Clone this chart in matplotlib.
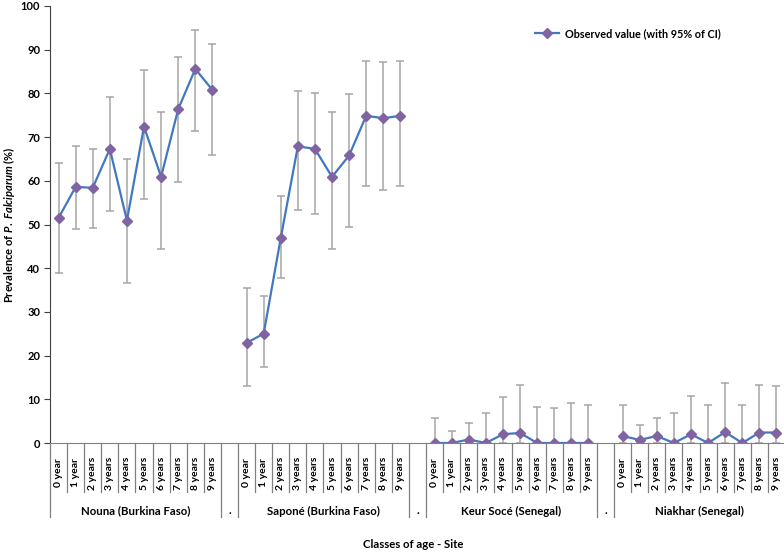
import numpy as np
import matplotlib.pyplot as plt

plt.rcParams['font.family'] = ['Lato', 'DejaVu Sans']
plt.rcParams['mathtext.fontset'] = 'custom'
plt.rcParams['mathtext.rm'] = 'Lato:bold'
plt.rcParams['mathtext.it'] = 'Lato:italic:bold'

sites = ['Nouna (Burkina Faso)', 'Saponé (Burkina Faso)',
         'Keur Socé (Senegal)', 'Niakhar (Senegal)']
ages = ['0 year', '1 year', '2 years', '3 years', '4 years',
        '5 years', '6 years', '7 years', '8 years', '9 years']

# observed prevalence and 95% CI, per site
nouna = [51.5, 58.6, 58.4, 67.3, 50.9, 72.4, 60.9, 76.4, 85.6, 80.8]
nouna_lo = [38.8, 49.0, 49.1, 53.1, 36.5, 55.9, 44.4, 59.7, 71.4, 65.8]
nouna_hi = [64.1, 67.9, 67.3, 79.2, 65.1, 85.4, 75.7, 88.4, 94.6, 91.4]

sapone = [22.9, 25.0, 46.9, 67.9, 67.3, 60.9, 65.8, 74.9, 74.3, 74.9]
sapone_lo = [13.1, 17.5, 37.7, 53.3, 52.3, 44.4, 49.4, 58.7, 57.9, 58.7]
sapone_hi = [35.5, 33.6, 56.5, 80.5, 80.0, 75.7, 79.8, 87.3, 87.1, 87.3]

keur = [0.0, 0.0, 0.8, 0.0, 2.0, 2.3, 0.0, 0.0, 0.0, 0.0]
keur_lo = [0.0, 0.0, 0.0, 0.0, 0.0, 0.0, 0.0, 0.0, 0.0, 0.0]
keur_hi = [5.7, 2.8, 4.6, 6.9, 10.6, 13.2, 8.3, 7.9, 9.2, 8.6]

niakhar = [1.6, 0.7, 1.6, 0.0, 2.0, 0.0, 2.5, 0.0, 2.4, 2.4]
niakhar_lo = [0.0, 0.0, 0.1, 0.0, 0.0, 0.0, 0.0, 0.0, 0.0, 0.0]
niakhar_hi = [8.6, 4.2, 5.7, 6.9, 10.7, 8.6, 13.7, 8.6, 13.2, 13.0]

groups = [(nouna, nouna_lo, nouna_hi), (sapone, sapone_lo, sapone_hi),
          (keur, keur_lo, keur_hi), (niakhar, niakhar_lo, niakhar_hi)]

fig = plt.figure(figsize=(7.84, 5.53), dpi=100)
ax = fig.add_axes([50 / 784, 110 / 553, 735 / 784, 437 / 553])

n_age = len(ages)
step = n_age + 1  # one empty "." category between sites
n_cat = len(sites) * step - 1

for g, (val, lo, hi) in enumerate(groups):
    x = np.arange(n_age) + g * step
    val = np.array(val)
    yerr = [val - np.array(lo), np.array(hi) - val]
    ax.errorbar(x, val, yerr=yerr, fmt='none', ecolor='#a6a6a6',
                elinewidth=1.1, capsize=3, capthick=1.1, zorder=1)
    ax.plot(x, val, color='#4278c0', lw=1.6, marker='D', ms=5,
            mfc='#8064a2', mec='#8064a2', zorder=2,
            label='Observed value (with 95% of CI)' if g == 0 else None)

ax.set_xlim(-0.5, n_cat - 0.5)
ax.set_ylim(0, 100)
ax.set_yticks(np.arange(0, 101, 10))
ax.tick_params(axis='y', labelsize=8, length=4, color='#404040', pad=3)
for lab in ax.get_yticklabels():
    lab.set_fontweight('bold')
ax.set_xticks([])
for s in ['top', 'right']:
    ax.spines[s].set_visible(False)
ax.spines['left'].set_color('#404040')
ax.spines['bottom'].set_color('#808080')

ax.set_ylabel('Prevalence of $\\mathit{P.\\ Falciparum}$ (%)',
              fontsize=8, fontweight='bold', va='center')
ax.yaxis.set_label_coords(-41 / 735, 0.5)

# multi-level category axis
trans = ax.get_xaxis_transform()
h = 437.0
y_age = -49 / h
y_site = -74 / h
line_kw = dict(color='#808080', lw=0.9, transform=trans, clip_on=False)
for g in range(len(sites)):
    start = g * step
    for i in range(n_age):
        ax.text(start + i, -30 / h, ages[i], rotation=90, ha='center',
                va='center', fontsize=7.5, fontweight='bold',
                transform=trans)
    for i in range(1, n_age):
        xb = start + i - 0.5
        ax.plot([xb, xb], [0, y_age], **line_kw)
    for xb in [start - 0.5, start + n_age - 0.5]:
        ax.plot([xb, xb], [0, y_site], **line_kw)
    ax.text(start + (n_age - 1) / 2, -68 / h, sites[g], ha='center',
            va='center', fontsize=8.2, fontweight='bold', transform=trans)
    if g < len(sites) - 1:
        ax.text(start + n_age, -68 / h, '.', ha='center', va='center',
                fontsize=8.2, fontweight='bold', transform=trans)

fig.text(413 / 784, 1 - 545 / 553, 'Classes of age - Site', ha='center',
         va='center', fontsize=8.2, fontweight='bold')

ax.legend(loc='upper left', bbox_to_anchor=(0.647, 0.972), frameon=False,
          prop={'size': 7.8, 'weight': 'bold'}, handlelength=2.2,
          handletextpad=0.5)

fig.savefig('out.png', dpi=100)
